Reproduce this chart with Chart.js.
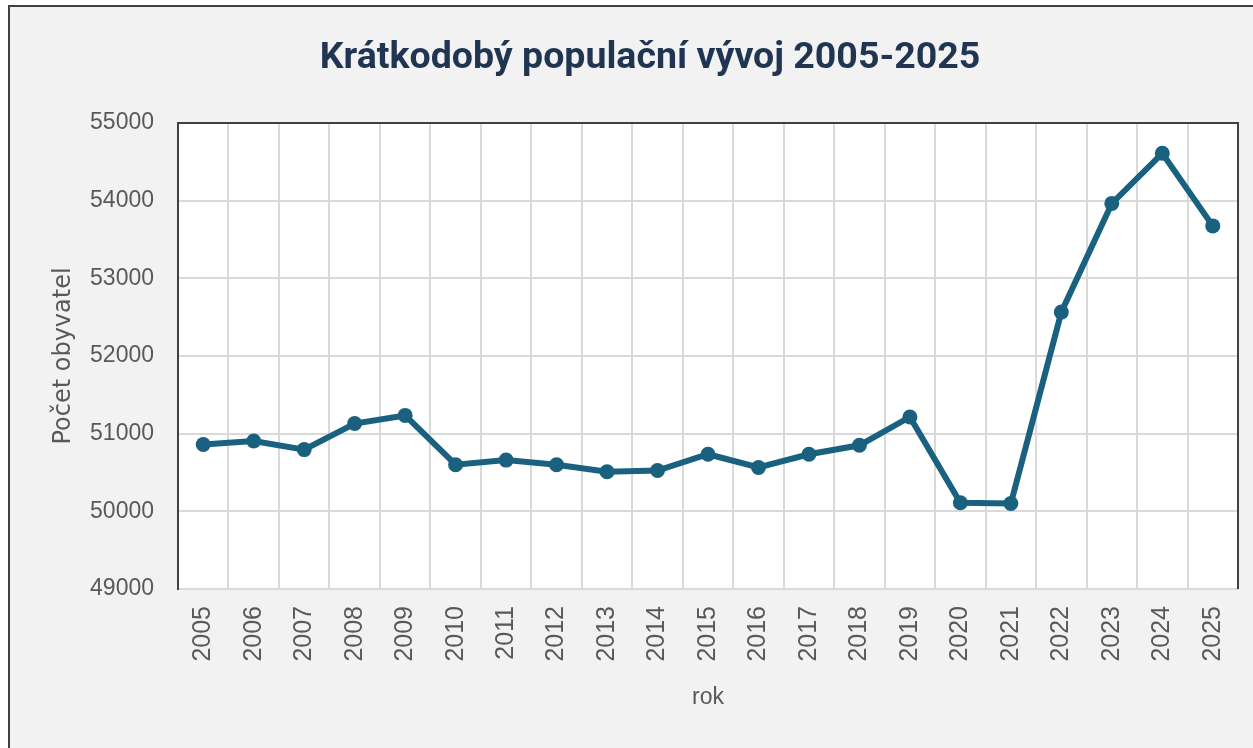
<!DOCTYPE html>
<html>
<head>
<meta charset="utf-8">
<script src="https://cdn.jsdelivr.net/npm/chart.js@4"></script>
<style>
  html, body { margin: 0; padding: 0; background: #ffffff; overflow: hidden; }
  #frame {
    position: absolute; left: 8px; top: 5px; width: 1300px; height: 800px;
    background: #f2f2f2; border-left: 2px solid #404040; border-top: 2px solid #404040;
  }
  #popChart { position: absolute; left: 0; top: 0; }
</style>
</head>
<body>
<div id="frame"></div>
<canvas id="popChart" width="1282" height="748"></canvas>
<script>
const years = ["2005", "2006", "2007", "2008", "2009", "2010", "2011", "2012", "2013", "2014",
  "2015", "2016", "2017", "2018", "2019", "2020", "2021", "2022", "2023", "2024", "2025"];
const population = [50860, 50905, 50795, 51130, 51235, 50600, 50660, 50600, 50510, 50525,
  50735, 50565, 50735, 50850, 51215, 50110, 50100, 52565, 53965, 54610, 53675];
const yTicks = [49000, 50000, 51000, 52000, 53000, 54000, 55000];

const lineColor = "#19617f";
const gridColor = "#d9d9d9";
const textColor = "#595959";

// white plot area + dark top/right frame like in Excel
const plotFrame = {
  id: "plotFrame",
  beforeDraw(chart) {
    const { ctx, chartArea: a } = chart;
    ctx.save();
    ctx.fillStyle = "#ffffff";
    ctx.fillRect(a.left, a.top, a.right - a.left, a.bottom - a.top);
    ctx.restore();
  },
  afterDatasetsDraw(chart) {
    const { ctx, chartArea: a } = chart;
    ctx.save();
    ctx.strokeStyle = "#404040";
    ctx.lineWidth = 2;
    ctx.beginPath();
    ctx.moveTo(a.left, a.top);
    ctx.lineTo(a.right, a.top);
    ctx.lineTo(a.right, a.bottom);
    ctx.stroke();
    ctx.restore();
  }
};

const ctx = document.getElementById("popChart").getContext("2d");
const popChart = new Chart(ctx, {
  type: "line",
  data: {
    labels: years,
    datasets: [
      {
        label: "Počet obyvatel",
        data: population,
        borderColor: lineColor,
        backgroundColor: lineColor,
        borderWidth: 6,
        tension: 0,
        pointRadius: 7.5,
        pointBackgroundColor: lineColor,
        pointBorderColor: lineColor,
        pointBorderWidth: 0,
      },
    ],
  },
  options: {
    responsive: false,
    animation: false,
    layout: { padding: { left: 62, right: 44, top: 0, bottom: 0 } },
    plugins: {
      legend: { display: false },
      tooltip: { enabled: false },
      title: {
        display: true,
        text: "Krátkodobý populační vývoj 2005-2025",
        color: "#1f3552",
        font: { family: "Roboto", size: 37.5, weight: "bold" },
        padding: { top: 36, bottom: 42 },
      },
    },
    scales: {
      x: {
        offset: true,
        afterFit(scale) { scale.height = 159; },
        grid: { offset: true, color: gridColor, lineWidth: 2, drawTicks: false },
        border: { color: gridColor, width: 2 },
        ticks: {
          color: textColor,
          font: { family: "Liberation Sans", size: 25 },
          minRotation: 90,
          maxRotation: 90,
          padding: 17,
          autoSkip: false,
        },
        title: {
          display: true,
          text: "rok",
          color: textColor,
          font: { family: "Liberation Sans", size: 23 },
          padding: { top: 0, bottom: 37 },
        },
      },
      y: {
        min: yTicks[0],
        max: yTicks[yTicks.length - 1],
        afterFit(scale) { scale.width = 116; },
        afterBuildTicks(scale) { scale.ticks = yTicks.map(v => ({ value: v })); },
        grid: { color: gridColor, lineWidth: 2, drawTicks: false },
        border: { color: "#404040", width: 2 },
        ticks: {
          color: textColor,
          font: { family: "Liberation Sans", size: 23 },
          padding: 24,
          callback: v => String(v),
        },
        title: {
          display: true,
          text: "Počet obyvatel",
          color: textColor,
          font: { family: "DejaVu Sans", size: 24 },
          padding: { top: -13, bottom: 0 },
        },
      },
    },
  },
  plugins: [plotFrame],
});
</script>
</body>
</html>
